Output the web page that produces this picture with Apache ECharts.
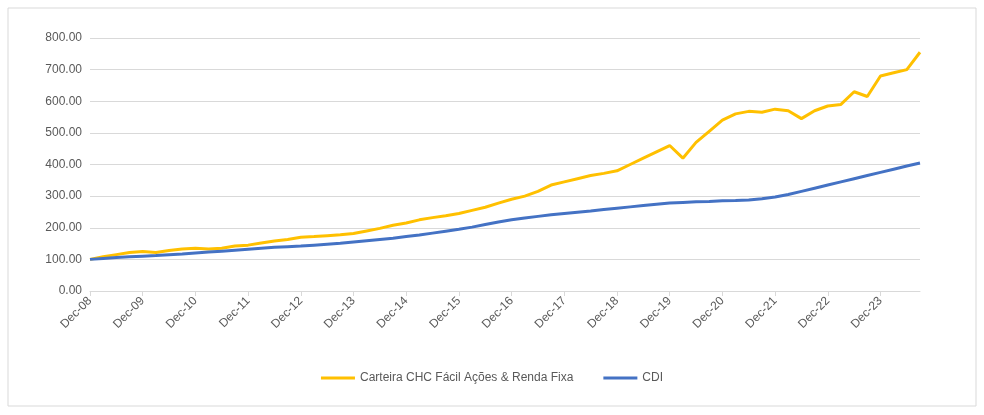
<!DOCTYPE html>
<html><head><meta charset="utf-8">
<script src="https://cdn.jsdelivr.net/npm/echarts@6/dist/echarts.min.js"></script>
<style>html,body{margin:0;background:#fff}#c{width:984px;height:415px}</style>
</head><body><div id="c"></div>
<script>
const months=['Mar','Jun','Sep','Dec'];
const categories=['Dec-08'];
for(let y=9;y<=24;y++){for(const m of months){if(y===24&&m==='Dec')break;categories.push(m+'-'+String(y).padStart(2,'0'));}}
const carteira=[100,
108,115,122,125, 122,128,133,135, 133,135,142,145, 152,158,163,170,
172,175,178,182, 190,198,208,215, 225,232,238,245, 255,265,278,290,
300,315,335,345, 355,365,372,380, 400,420,440,460, 420,470,505,540,
560,568,565,575, 570,545,570,585, 590,630,615,680, 690,700,755];
const cdi=[100,
103,106,108,110, 112,115,117,120, 123,126,129,132, 135,138,140,142,
145,148,151,155, 159,163,167,172, 177,183,189,195, 202,210,218,225,
231,236,241,245, 249,253,258,262, 266,270,274,278, 280,282,283,285,
286,288,292,297, 305,315,325,335, 345,355,365,375, 385,395,405];
const yTicks=[0,100,200,300,400,500,600,700,800];
const names=['Carteira CHC Fácil Ações & Renda Fixa','CDI'];
const chart=echarts.init(document.getElementById('c'));
chart.setOption({
  animation:false,
  graphic:[{type:'rect',shape:{x:8,y:8,width:968,height:398},style:{fill:'none',stroke:'#d9d9d9',lineWidth:1}}],
  grid:{left:90,right:64,top:38,bottom:124},
  legend:{bottom:26,left:'center',itemWidth:34,itemHeight:3,itemGap:30,icon:'rect',
    textStyle:{fontFamily:'Liberation Sans',fontSize:12,color:'#595959'},data:names},
  xAxis:{type:'category',data:categories,boundaryGap:false,
    axisLine:{lineStyle:{color:'#d9d9d9'}},
    axisTick:{show:true,interval:3,alignWithLabel:true,lineStyle:{color:'#d9d9d9'}},
    axisLabel:{interval:3,rotate:45,fontFamily:'Liberation Sans',fontSize:12,color:'#595959'}},
  yAxis:{type:'value',min:yTicks[0],max:yTicks[yTicks.length-1],interval:100,
    axisLabel:{formatter:v=>v.toFixed(2),fontFamily:'Liberation Sans',fontSize:12,color:'#595959'},
    splitLine:{lineStyle:{color:'#d9d9d9'}}},
  series:[
    {name:names[0],type:'line',data:carteira,showSymbol:false,lineStyle:{color:'#FFC000',width:3},itemStyle:{color:'#FFC000'}},
    {name:names[1],type:'line',data:cdi,showSymbol:false,lineStyle:{color:'#4472C4',width:3},itemStyle:{color:'#4472C4'}}
  ]
});
</script></body></html>
